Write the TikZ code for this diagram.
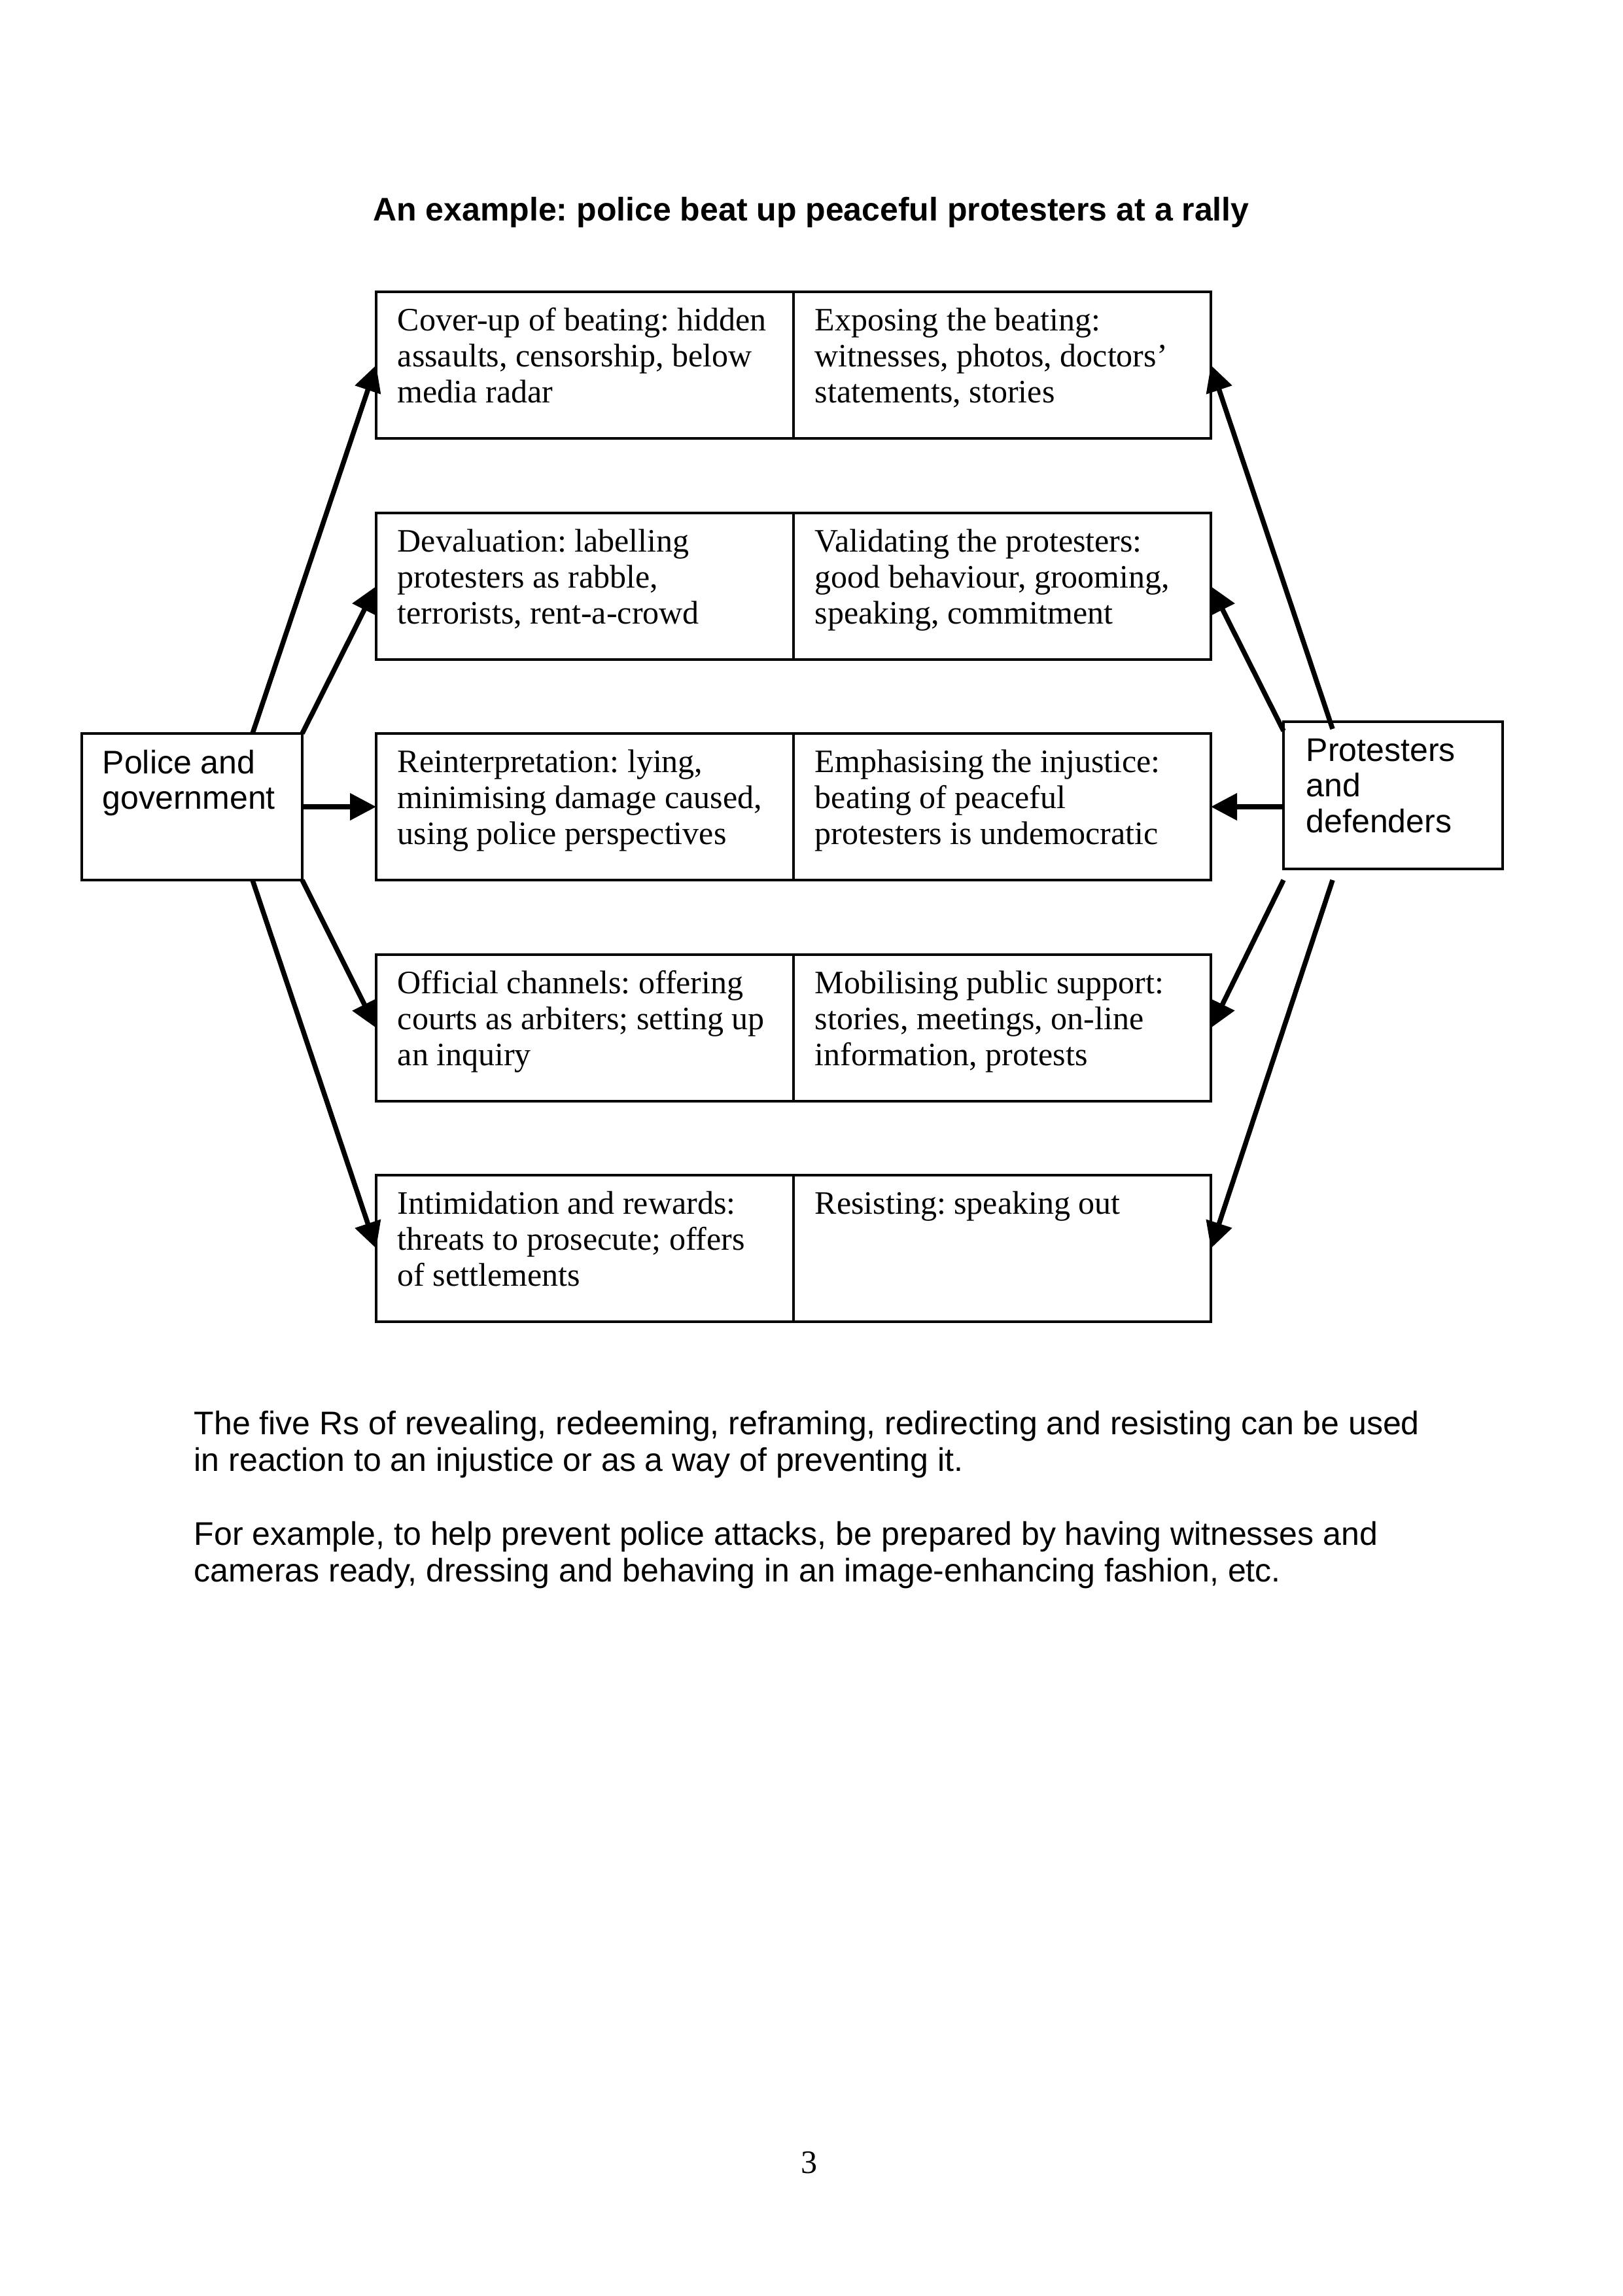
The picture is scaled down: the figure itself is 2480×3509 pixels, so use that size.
\documentclass[tikz,border=0pt]{standalone}
\usepackage{fontspec}
\setmainfont{Liberation Serif}
\setsansfont{Liberation Sans}
\usetikzlibrary{arrows.meta,calc}
\begin{document}
\frenchspacing
\begin{tikzpicture}[x=0.24pt,y=-0.24pt,
  cell/.style={draw,line width=0.8pt,rectangle,inner sep=0pt,outer sep=0pt,minimum width=153.12pt,minimum height=53.76pt,anchor=north west},
  actor/.style={draw,line width=0.8pt,rectangle,inner sep=0pt,outer sep=0pt,anchor=north west},
  celltext/.style={anchor=north west,inner sep=0pt,align=left,font=\fontsize{12}{13.2}\selectfont},
  actortext/.style={anchor=north west,inner sep=0pt,align=left,font=\sffamily\fontsize{12}{13.1}\selectfont},
  bodytext/.style={anchor=north west,inner sep=0pt,align=left,font=\sffamily\fontsize{12}{13.44}\selectfont},
  arr/.style={line width=1.8pt,-{Triangle[length=9.6pt,width=9.6pt]}}]
\useasboundingbox (0,0) rectangle (2480,3509);

% title
\node[anchor=base,inner sep=0pt,font=\sffamily\bfseries\fontsize{12}{14}\selectfont] (title) at (1240,338) {An example: police beat up peaceful protesters at a rally};

% cells
\node[cell] (l1) at (575,446) {};
\node[cell] (r1) at (1213,446) {};
\node[cell] (l2) at (575,784) {};
\node[cell] (r2) at (1213,784) {};
\node[cell] (l3) at (575,1121) {};
\node[cell] (r3) at (1213,1121) {};
\node[cell] (l4) at (575,1459) {};
\node[cell] (r4) at (1213,1459) {};
\node[cell] (l5) at (575,1796) {};
\node[cell] (r5) at (1213,1796) {};

\node[celltext] (tl1) at ($(l1.north west)+(32,20.5)$) {\strut Cover-up of beating: hidden\\assaults, censorship, below\\media radar};
\node[celltext] (tr1) at ($(r1.north west)+(32,20.5)$) {\strut Exposing the beating:\\witnesses, photos, doctors’\\statements, stories};
\node[celltext] (tl2) at ($(l2.north west)+(32,20.5)$) {\strut Devaluation: labelling\\protesters as rabble,\\terrorists, rent-a-crowd};
\node[celltext] (tr2) at ($(r2.north west)+(32,20.5)$) {\strut Validating the protesters:\\good behaviour, grooming,\\speaking, commitment};
\node[celltext] (tl3) at ($(l3.north west)+(32,20.5)$) {\strut Reinterpretation: lying,\\minimising damage caused,\\using police perspectives};
\node[celltext] (tr3) at ($(r3.north west)+(32,20.5)$) {\strut Emphasising the injustice:\\beating of peaceful\\protesters is undemocratic};
\node[celltext] (tl4) at ($(l4.north west)+(32,20.5)$) {\strut Official channels: offering\\courts as arbiters; setting up\\an inquiry};
\node[celltext] (tr4) at ($(r4.north west)+(32,20.5)$) {\strut Mobilising public support:\\stories, meetings, on-line\\information, protests};
\node[celltext] (tl5) at ($(l5.north west)+(32,20.5)$) {\strut Intimidation and rewards:\\threats to prosecute; offers\\of settlements};
\node[celltext] (tr5) at ($(r5.north west)+(32,20.5)$) {\strut Resisting: speaking out};

% actors
\node[actor,minimum width=80.88pt,minimum height=53.76pt] (police) at (125,1121) {};
\node[actortext] (tpolice) at ($(police.north west)+(31,22)$) {\strut Police and\\government};
\node[actor,minimum width=80.4pt,minimum height=54pt] (prot) at (1962,1103) {};
\node[actortext] (tprot) at ($(prot.north west)+(34,21)$) {\strut Protesters\\and\\defenders};

% free ends
\coordinate (pA) at (386,1121);
\coordinate (pE) at (386,1345);
\coordinate (qA) at (2037,1114);
\coordinate (qB) at (1962,1117);
\coordinate (qD) at (1962,1345);
\coordinate (qE) at (2037,1345);

% arrows
\draw[arr] (pA) -- (l1.west);
\draw[arr] (police.north east) -- (l2.west);
\draw[arr] (police.east |- l3.west) -- (l3.west);
\draw[arr] (police.south east) -- (l4.west);
\draw[arr] (pE) -- (l5.west);
\draw[arr] (qA) -- (r1.east);
\draw[arr] (qB) -- (r2.east);
\draw[arr] (prot.west |- r3.east) -- (r3.east);
\draw[arr] (qD) -- (r4.east);
\draw[arr] (qE) -- (r5.east);

% body text
\node[bodytext] (para1) at (296,2152.8) {\strut The five Rs of revealing, redeeming, reframing, redirecting and resisting can be used\\in reaction to an injustice or as a way of preventing it.};
\node[bodytext] (para2) at (296,2321.8) {\strut For example, to help prevent police attacks, be prepared by having witnesses and\\cameras ready, dressing and behaving in an image-enhancing fashion, etc.};

% page number
\node[anchor=base,inner sep=0pt,font=\fontsize{12}{14}\selectfont] (pageno) at (1237,3321) {3};
\end{tikzpicture}
\end{document}
